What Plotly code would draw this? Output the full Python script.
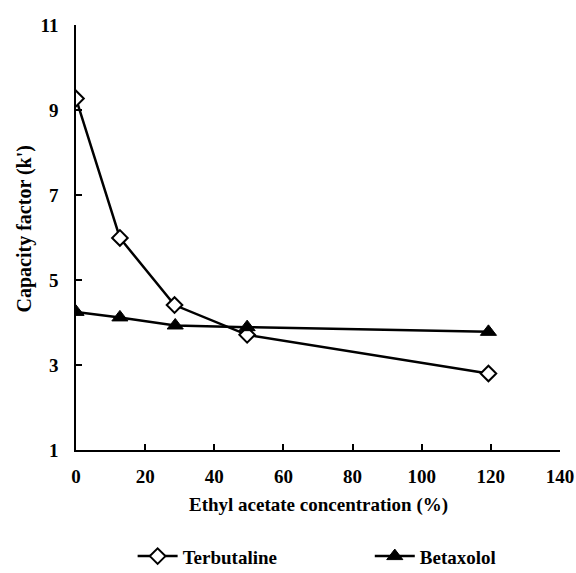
import plotly.graph_objects as go

x_terb = [0, 12.7, 28.5, 49.5, 119.3]
y_terb = [9.27, 5.99, 4.41, 3.71, 2.80]
x_beta = [0, 12.7, 28.7, 49.5, 119.3]
y_beta = [4.25, 4.12, 3.93, 3.89, 3.78]

x_ticks = [0, 20, 40, 60, 80, 100, 120, 140]
y_ticks = [1, 3, 5, 7, 9, 11]

FONT = "Liberation Serif"

fig = go.Figure()
fig.add_trace(go.Scatter(
    x=x_terb, y=y_terb, mode="lines+markers", name="<b>Terbutaline</b>",
    line=dict(color="black", width=2.5),
    marker=dict(symbol="diamond", size=12, color="white",
                line=dict(color="black", width=2)),
    legend="legend",
))
fig.add_trace(go.Scatter(
    x=x_beta, y=y_beta, mode="lines+markers", name="<b>Betaxolol</b>",
    line=dict(color="black", width=2.5),
    marker=dict(symbol="triangle-up", size=14, color="black",
                line=dict(color="black", width=1)),
    legend="legend2",
))

leg_common = dict(orientation="h", yanchor="middle", y=-0.25, xanchor="left",
                  font=dict(family=FONT, size=19, color="black"),
                  bgcolor="rgba(0,0,0,0)", itemwidth=40)

fig.update_layout(
    width=576, height=573,
    margin=dict(l=76, r=16, t=25, b=123, autoexpand=False),
    paper_bgcolor="white", plot_bgcolor="white",
    font=dict(family=FONT, color="black", size=19),
    showlegend=True,
    legend=dict(x=0.117, **leg_common),
    legend2=dict(x=0.607, **leg_common),
    annotations=[
        dict(text="<b>Ethyl acetate concentration (%)</b>", xref="paper", yref="paper",
             x=0.5, y=-0.1294, xanchor="center", yanchor="middle", showarrow=False,
             font=dict(family=FONT, size=19, color="black")),
        dict(text="<b>Capacity factor (k')</b>", xref="paper", yref="paper",
             x=-0.1054, y=0.5212, xanchor="center", yanchor="middle", showarrow=False,
             textangle=-90, font=dict(family=FONT, size=20, color="black")),
    ],
)
fig.update_xaxes(
    range=[0, 140], tickvals=x_ticks, ticktext=[f"<b>{v}</b>" for v in x_ticks],
    showline=True, linecolor="black", linewidth=1.5, mirror=False,
    ticks="inside", ticklen=6, tickcolor="black", tickwidth=1.5,
    showgrid=False, zeroline=False, automargin=False, ticklabelstandoff=8,
    ticklabeloverflow="allow",
    tickfont=dict(family=FONT, size=19, color="black"),
)
fig.update_yaxes(
    range=[1, 11], tickvals=y_ticks, ticktext=[f"<b>{v}</b>" for v in y_ticks],
    showline=True, linecolor="black", linewidth=1.5,
    ticks="inside", ticklen=6, tickcolor="black", tickwidth=1.5,
    showgrid=False, zeroline=False, ticklabelstandoff=12, automargin=False,
    ticklabeloverflow="allow",
    tickfont=dict(family=FONT, size=19, color="black"),
)

fig.write_html("out.html", config={"displayModeBar": False},
               post_script="document.body.style.margin='0';")
